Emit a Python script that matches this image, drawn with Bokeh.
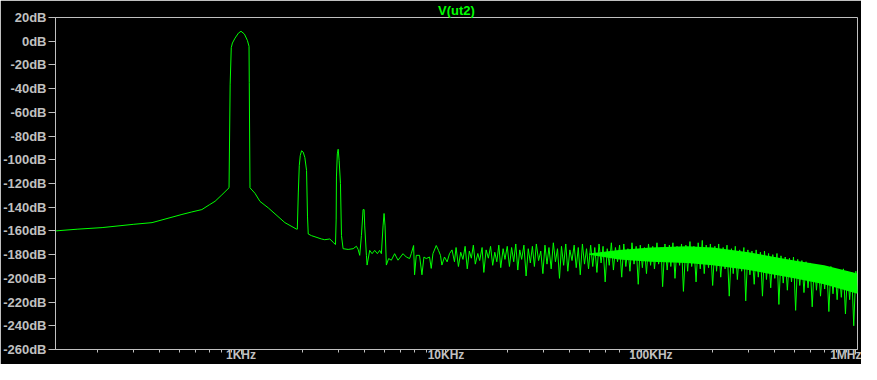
from bokeh.plotting import figure
from bokeh.models import Range1d, FixedTicker
from bokeh.embed import file_html
from bokeh.resources import INLINE

# ---------------- data ----------------
f_min, f_max = 124.4, 1018000.0
db_min, db_max = -260, 20

# skirts + fundamental (Hz, dB)
fund_hz = [124, 160, 210, 300, 368, 515, 575, 644, 700, 747, 806, 874, 885, 896,
           908, 935, 971, 1000, 1039, 1074, 1094, 1097, 1106, 1170, 1237, 1359, 1637, 1866]
fund_db = [-160, -158.5, -157.2, -154.4, -153, -146.1, -144, -142, -138, -135, -129.6,
           -123.6, -36.8, -5.4, -1.5, 2.6, 6.8, 8.4, 6.0, 0.7, -4.3, -35, -123.6,
           -128.3, -135.1, -140.6, -153, -158.5]

# harmonics 2..5 (Hz, dB)
harm_hz = [1882, 1903, 1924, 1945, 1974, 2010, 2048, 2088, 2110, 2128, 2208, 2470, 2560,
           2711, 2816, 2890, 2912, 2921, 2950, 2978, 3011, 3056, 3091, 3148, 3332, 3524,
           3656, 3727, 3794, 3867, 3941, 3986, 4013, 4090, 4122, 4244, 4360, 4489, 4627,
           4747, 4839, 4931, 4987, 5043, 5117]
harm_db = [-158.5, -128, -105, -96.5, -92.4, -93.5, -98, -109, -147.5, -162.6, -164,
           -166.8, -167.4, -166.8, -169.6, -171.5, -150, -114.5, -95, -91.1, -100.7, -120,
           -164, -175, -175.6, -175, -172.9, -175.6, -180.6, -164, -142, -142, -155.8,
           -180.6, -188.8, -176.4, -179.2, -176.4, -179.2, -176.4, -179.2, -155.8, -145.3,
           -155.8, -188.8]

# sparse noise 5 kHz .. 10 kHz (Hz, dB)
sparse_hz = [5251, 5412, 5616, 5834, 6170, 6402, 6643, 6771, 6950, 7026, 7161, 7430, 7633,
             7806, 8010, 8312, 8472, 8636, 8963, 9193, 9402, 9550, 9833, 10130, 10400]
sparse_db = [-183.3, -184.7, -179.2, -184.7, -179.2, -182, -183.3, -179.2, -172.3, -197,
             -180.6, -180.6, -197, -182, -183.3, -182, -191.6, -179.2, -172.3, -176.4,
             -180.6, -188.8, -182, -186.1, -179.2]

# noise floor, 10 kHz .. 1 MHz (kHz, dB)
n10_khz = [10.7, 11.0, 11.2, 11.5, 11.8, 12.1, 12.4, 12.7, 13.0, 13.3, 13.6, 13.9, 14.3,
           14.6, 15.0, 15.3, 15.7, 16.1, 16.5, 16.9, 17.3, 17.7, 18.1, 18.5, 19.0, 19.4, 19.9]
n10_db = [-176, -186, -174, -190, -178, -184, -173, -192, -177, -183, -172, -188, -179,
          -185, -174, -195, -176, -183, -173, -189, -178, -186, -172, -191, -175, -184, -173]

n20_khz = [20.4, 20.9, 21.4, 21.9, 22.4, 22.9, 23.4, 24.0, 24.6, 25.2, 25.8, 26.4, 27.0,
           27.6, 28.3, 29.0, 29.7, 30.4, 31.1, 31.8, 32.6, 33.4, 34.2, 35.0, 35.8, 36.6,
           37.5, 38.4, 39.3, 40.2, 41.2, 42.2, 43.2, 44.2, 45.2, 46.3, 47.4, 48.5, 49.6]
n20_db = [-190, -174, -186, -171, -193, -176, -184, -172, -198, -175, -187, -173, -190,
          -171, -185, -177, -196, -172, -188, -174, -192, -170, -186, -175, -200, -173,
          -189, -171, -194, -176, -185, -172, -191, -174, -197, -171, -188, -175, -192]

n50_khz = [50.8, 52.0, 53.2, 54.5, 55.8, 57.1, 58.4, 59.8, 61.2, 62.6, 64.1, 65.6, 67.1,
           68.7, 70.3, 72.0, 73.7, 75.4, 77.2, 79.0, 80.8, 82.7, 84.7, 86.7, 88.7, 90.8,
           92.9, 95.1, 97.3, 99.6]
n50_db = [-172, -190, -174, -195, -171, -187, -173, -203, -175, -189, -170, -193, -174,
          -186, -172, -199, -171, -190, -175, -194, -170, -188, -173, -205, -172, -191,
          -174, -196, -171, -189]

n100_khz = [102, 104, 107, 109, 112, 114, 117, 120, 123, 125, 128, 131, 134, 138, 141,
            144, 148, 151, 155, 158, 162, 166, 170, 174, 178, 182, 186, 191, 195, 200]
n100_db = [-173, -192, -170, -188, -174, -207, -171, -193, -172, -190, -170, -200, -173,
           -189, -171, -211, -172, -194, -169, -190, -173, -203, -170, -192, -168, -196,
           -172, -191, -171, -206]

n200_khz = [205, 209, 214, 219, 225, 230, 235, 241, 247, 252, 258, 264, 271, 277, 284,
            290, 297, 304, 311, 319, 326, 334, 342, 350, 358, 366, 375, 384, 393, 402,
            412, 421, 431, 442, 452, 463, 474, 485, 496]
n200_db = [-173, -194, -171, -199, -174, -192, -172, -215, -175, -196, -173, -201, -176,
           -194, -174, -219, -176, -197, -177, -205, -176, -199, -178, -215, -177, -201,
           -179, -208, -180, -200, -179, -222, -181, -204, -182, -210, -183, -203, -182]

n500_khz = [508, 520, 532, 545, 558, 571, 584, 598, 612, 627, 642, 657, 672, 688, 704,
            721, 738, 755, 773, 791, 810, 829, 849, 869, 889, 910, 932, 954, 976, 999, 1018]
n500_db = [-227, -184, -206, -185, -212, -186, -208, -187, -224, -188, -210, -189, -215,
           -190, -209, -191, -228, -190, -213, -192, -218, -193, -216, -192, -230, -194,
           -218, -195, -240, -194, -212]

# solid core of the dense noise band (kHz, dB)
core_khz = [50, 70, 100, 150, 200, 300, 500, 700, 1018]
core_top = [-179, -176, -174, -173, -174, -178, -185, -189, -196]
core_bot = [-180, -184, -186, -187, -189, -193, -200, -205, -213]

# axes
x_ticks = [1000, 10000, 100000, 1000000]
x_labels = ["1KHz", "10KHz", "100KHz", "1MHz"]
y_ticks = [20, 0, -20, -40, -60, -80, -100, -120, -140, -160, -180, -200, -220, -240, -260]
y_labels = ["20dB", "0dB", "-20dB", "-40dB", "-60dB", "-80dB", "-100dB", "-120dB",
            "-140dB", "-160dB", "-180dB", "-200dB", "-220dB", "-240dB", "-260dB"]
title_text = "V(ut2)"

# ---------------- assemble ----------------
noise_khz = n10_khz + n20_khz + n50_khz + n100_khz + n200_khz + n500_khz
noise_db = n10_db + n20_db + n50_db + n100_db + n200_db + n500_db
assert len(noise_khz) == len(noise_db)
trace_hz = fund_hz + harm_hz + sparse_hz + [k * 1000 for k in noise_khz]
trace_db = fund_db + harm_db + sparse_db + noise_db
assert len(trace_hz) == len(trace_db)

GREEN = "#00ff00"
GRAY = "#c0c0c0"
FONT = "Liberation Sans"

p = figure(width=861, height=364, x_axis_type="log",
           x_range=Range1d(f_min, f_max), y_range=Range1d(db_min, db_max),
           output_backend="svg", toolbar_location=None,
           min_border_left=53, min_border_right=4, min_border_top=17, min_border_bottom=15,
           background_fill_color="black", border_fill_color="black")
p.outline_line_color = GRAY
p.outline_line_width = 1
p.grid.visible = False

# title (figure title, centred over the plot frame)
p.title.text = title_text
p.title.align = "center"
p.title.text_color = GREEN
p.title.text_font = FONT
p.title.text_font_style = "bold"
p.title.text_font_size = "13px"
p.title.standoff = 0
p.title.offset = 0

p.varea(x=[k * 1000 for k in core_khz], y1=core_bot, y2=core_top,
        fill_color=GREEN, fill_alpha=1.0)
p.line(trace_hz, trace_db, line_color=GREEN, line_width=1)

minor = [m * 10 ** e for e in range(2, 7) for m in range(2, 10) if f_min <= m * 10 ** e <= f_max]
xa = p.xaxis[0]
xa.ticker = FixedTicker(ticks=x_ticks, minor_ticks=minor)
xa.major_label_overrides = {float(t): l for t, l in zip(x_ticks, x_labels)}
xa.axis_line_color = GRAY
xa.major_tick_line_color = GRAY
xa.minor_tick_line_color = GRAY
# ticks drawn outward through negative "in" lengths so they take no layout room
xa.major_tick_out = 0
xa.major_tick_in = -5
xa.minor_tick_out = 0
xa.minor_tick_in = -3
xa.major_label_standoff = -2
xa.major_label_text_color = GRAY
xa.major_label_text_font = FONT
xa.major_label_text_font_style = "bold"
xa.major_label_text_font_size = "12px"

ya = p.yaxis[0]
ya.ticker = FixedTicker(ticks=y_ticks, minor_ticks=[])
ya.major_label_overrides = {float(t): l for t, l in zip(y_ticks, y_labels)}
ya.axis_line_color = GRAY
ya.major_tick_line_color = GRAY
ya.minor_tick_line_color = None
ya.major_tick_out = 7
ya.major_tick_in = 0
ya.major_label_standoff = 2
ya.major_label_text_color = GRAY
ya.major_label_text_font = FONT
ya.major_label_text_font_style = "bold"
ya.major_label_text_font_size = "13px"

open("out.html", "w").write(file_html(p, INLINE))
